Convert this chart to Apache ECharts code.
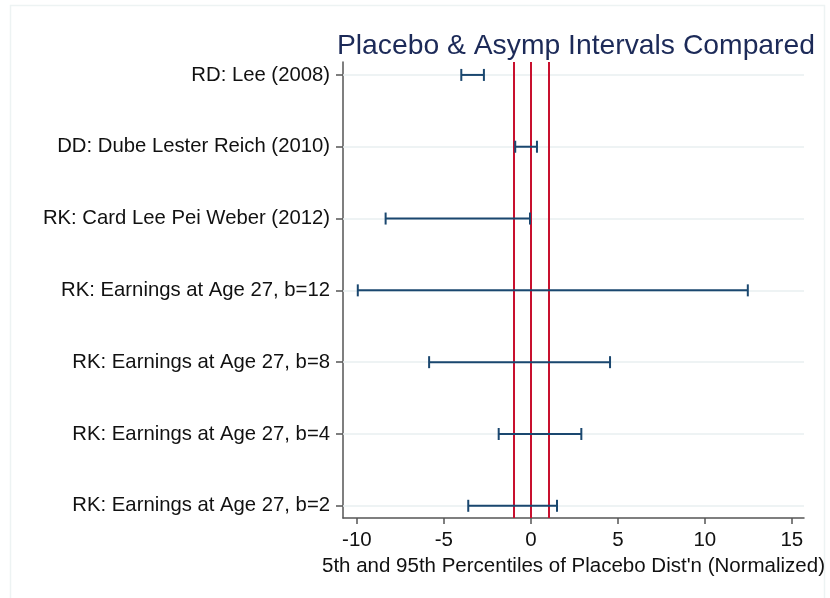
<!doctype html>
<html lang="en">
	<head>
		<meta charset="UTF-8">
		<title>Placebo & Asymp Intervals Compared</title>
		<script src="https://cdn.jsdelivr.net/npm/echarts@6/dist/echarts.min.js"></script>
		<style>
			html, body { margin: 0; padding: 0; background: #fff; }
		</style>
	</head>
	<body>
		<div id="chart" style="width: 830px; height: 598px;"></div>
		<script>
			// studies, top to bottom
			const studies = [
				'RD: Lee (2008)',
				'DD: Dube Lester Reich (2010)',
				'RK: Card Lee Pei Weber (2012)',
				'RK: Earnings at Age 27, b=12',
				'RK: Earnings at Age 27, b=8',
				'RK: Earnings at Age 27, b=4',
				'RK: Earnings at Age 27, b=2'
			]
			// 5th and 95th percentiles of the placebo distribution
			const lower = [-4.0, -0.9, -8.35, -9.95, -5.85, -1.85, -3.6]
			const upper = [-2.7, 0.35, -0.05, 12.47, 4.55, 2.9, 1.5]
			// reference lines (red)
			const refLines = [-1, 0, 1]
			const xTicks = [-10, -5, 0, 5, 10, 15]

			const font = "'Liberation Sans', Arial, Helvetica, sans-serif"
			const rows = studies.map((s, i) => i)

			let mCharts = echarts.init(document.getElementById('chart'))

			let option = {
				backgroundColor: '#fff',
				animation: false,
				title: {
					text: 'Placebo & Asymp Intervals Compared',
					right: 10,
					top: 27,
					textStyle: {
						fontFamily: font,
						fontWeight: 'normal',
						fontSize: 28.3,
						color: '#1c2a58'
					}
				},
				graphic: [{
					type: 'rect',
					shape: { x: 10.5, y: 5.5, width: 814, height: 600 },
					style: { fill: 'none', stroke: '#edf3f3', lineWidth: 1.5 },
					silent: true,
					z: -10
				}],
				grid: {
					left: 343,
					right: 26,
					top: 62,
					bottom: 80
				},
				xAxis: {
					type: 'value',
					min: -10.8,
					max: 15.7,
					name: "5th and 95th Percentiles of Placebo Dist'n (Normalized)",
					nameLocation: 'middle',
					nameGap: 34,
					nameTextStyle: { fontFamily: font, fontSize: 20.5, color: '#111' },
					axisLine: { show: true, onZero: false, lineStyle: { color: '#555', width: 1.5 } },
					axisTick: {
						show: true, length: 6, customValues: xTicks,
						lineStyle: { color: '#555', width: 1.5 }
					},
					axisLabel: {
						customValues: xTicks,
						margin: 12,
						fontFamily: font,
						fontSize: 20.5,
						color: '#111'
					},
					splitLine: { show: false }
				},
				yAxis: {
					type: 'value',
					inverse: true,
					min: -0.18,
					max: 6.17,
					axisLine: { show: true, onZero: false, lineStyle: { color: '#555', width: 1.5 } },
					axisTick: {
						show: true, length: 7, customValues: rows,
						lineStyle: { color: '#555', width: 1.5 }
					},
					axisLabel: {
						customValues: rows,
						margin: 13,
						fontFamily: font,
						fontSize: 20.3,
						color: '#111',
						padding: [3, 0, 0, 0],
						formatter: (v) => studies[Math.round(v)]
					},
					splitLine: { show: false }
				},
				series: [
					{
						// light horizontal grid lines at each study
						type: 'line',
						data: [],
						z: 1,
						silent: true,
						markLine: {
							silent: true,
							symbol: 'none',
							label: { show: false },
							lineStyle: { color: '#e8eff1', width: 1.5, type: 'solid' },
							data: rows.map(r => ({ yAxis: r }))
						}
					},
					{
						// red reference lines
						type: 'line',
						data: [],
						z: 2,
						silent: true,
						markLine: {
							silent: true,
							symbol: 'none',
							label: { show: false },
							lineStyle: { color: '#c8102e', width: 2, type: 'solid' },
							data: refLines.map(v => ({ xAxis: v }))
						}
					},
					{
						type: 'custom',
						z: 10,
						data: rows.map(i => [lower[i], upper[i], i]),
						renderItem: (params, api) => {
							let lo = api.coord([api.value(0), api.value(2)])
							let hi = api.coord([api.value(1), api.value(2)])
							let cap = 6
							let st = { stroke: '#1a476f', lineWidth: 2 }
							return {
								type: 'group',
								children: [
									{ type: 'line', shape: { x1: lo[0], y1: lo[1], x2: hi[0], y2: hi[1] }, style: st },
									{ type: 'line', shape: { x1: lo[0], y1: lo[1] - cap, x2: lo[0], y2: lo[1] + cap }, style: st },
									{ type: 'line', shape: { x1: hi[0], y1: hi[1] - cap, x2: hi[0], y2: hi[1] + cap }, style: st }
								]
							}
						}
					}
				]
			}
			mCharts.setOption(option)
		</script>
	</body>
</html>
